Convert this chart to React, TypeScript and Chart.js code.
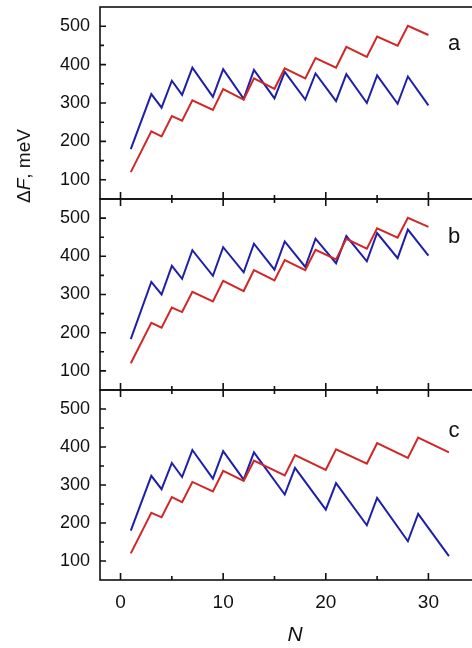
import React, { useEffect, useRef } from "react";
import { Chart, registerables } from "chart.js";

Chart.register(...registerables);

// ---- data ----
const nAB = [1, 3, 4, 5, 6, 7, 9, 10, 12, 13, 15, 16, 18, 19, 21, 22, 24, 25, 27, 28, 30];
const redAB = [120, 226, 213, 266, 254, 307, 282, 336, 309, 364, 337, 390, 364, 417, 392, 446, 420, 473, 449, 501, 477];
const blueA = [180, 323, 288, 358, 321, 392, 316, 388, 311, 386, 312, 381, 309, 377, 305, 375, 300, 372, 298, 369, 294];
const blueB = [183, 333, 300, 375, 341, 416, 349, 424, 358, 433, 365, 439, 372, 446, 382, 453, 387, 461, 395, 470, 402];

const nC = [1, 3, 4, 5, 6, 7, 9, 10, 12, 13, 16, 17, 20, 21, 24, 25, 28, 29, 32];
const redC = [120, 227, 215, 268, 255, 308, 283, 337, 311, 364, 325, 379, 340, 394, 356, 410, 371, 425, 386];
const blueC = [180, 324, 289, 358, 321, 392, 317, 389, 314, 386, 275, 345, 235, 305, 194, 266, 152, 224, 113];

const xMajor = [0, 10, 20, 30];
const xMinor = [5, 15, 25];
const yMajor = [100, 200, 300, 400, 500];
const yMinor = [150, 250, 350, 450];
const panelLabels = ["a", "b", "c"];

const FONT = '"Liberation Sans", Arial, sans-serif';
const BLUE = "#1f1fa8";
const RED = "#d02828";
const INK = "#111";

const framePlugin = {
  id: "frame",
  afterDatasetsDraw(chart: any, _args: any, opts: any) {
    const { ctx, chartArea, scales } = chart;
    const { left, right, top, bottom } = chartArea;
    const x = scales.x;
    const y = scales.y;
    ctx.save();
    ctx.strokeStyle = INK;
    ctx.lineWidth = 1.6;
    ctx.strokeRect(left, top, right - left, bottom - top);
    ctx.beginPath();
    yMajor.forEach((v) => {
      const p = y.getPixelForValue(v);
      ctx.moveTo(left, p);
      ctx.lineTo(left + 6, p);
    });
    yMinor.forEach((v) => {
      const p = y.getPixelForValue(v);
      ctx.moveTo(left, p);
      ctx.lineTo(left + 4, p);
    });
    xMajor.forEach((v) => {
      const p = x.getPixelForValue(v);
      ctx.moveTo(p, bottom);
      ctx.lineTo(p, bottom - 7);
      if (opts.topTicks) {
        ctx.moveTo(p, top);
        ctx.lineTo(p, top + 7);
      }
    });
    xMinor.forEach((v) => {
      const p = x.getPixelForValue(v);
      ctx.moveTo(p, bottom);
      ctx.lineTo(p, bottom - 4);
      if (opts.topTicks) {
        ctx.moveTo(p, top);
        ctx.lineTo(p, top + 4);
      }
    });
    ctx.stroke();
    ctx.fillStyle = INK;
    ctx.font = `22px ${FONT}`;
    ctx.textAlign = "center";
    ctx.textBaseline = "alphabetic";
    ctx.fillText(opts.label, 454, opts.labelY);
    ctx.restore();
  },
};

const panels = [
  { n: nAB, red: redAB, blue: blueA, top: 7, bottom: 199, label: panelLabels[0], labelY: 50, topTicks: false, showX: false },
  { n: nAB, red: redAB, blue: blueB, top: 199, bottom: 390, label: panelLabels[1], labelY: 243, topTicks: true, showX: false },
  { n: nC, red: redC, blue: blueC, top: 390, bottom: 580, label: panelLabels[2], labelY: 437, topTicks: true, showX: true },
];

const W = 490;
const H = 648;

function Panel({ idx }: { idx: number }) {
  const ref = useRef<HTMLCanvasElement | null>(null);
  useEffect(() => {
    const p = panels[idx];
    const canvas = ref.current!;
    const chart = new Chart(canvas, {
      type: "line",
      data: {
        datasets: [
          {
            data: p.n.map((v, i) => ({ x: v, y: p.red[i] })),
            borderColor: RED,
            borderWidth: 2,
            pointRadius: 0,
            tension: 0,
          },
          {
            data: p.n.map((v, i) => ({ x: v, y: p.blue[i] })),
            borderColor: BLUE,
            borderWidth: 2,
            pointRadius: 0,
            tension: 0,
          },
        ],
      },
      options: {
        animation: false,
        responsive: false,
        devicePixelRatio: 1,
        layout: {
          padding: { left: 0, right: 0, top: p.top, bottom: p.showX ? 0 : H - p.bottom },
        },
        plugins: {
          legend: { display: false },
          tooltip: { enabled: false },
          frame: { label: p.label, labelY: p.labelY, topTicks: p.topTicks },
        } as any,
        scales: {
          x: {
            type: "linear",
            min: -2,
            max: 36,
            display: p.showX,
            grid: { display: false, drawTicks: false },
            border: { display: false },
            ticks: {
              font: { family: FONT, size: 19 },
              color: INK,
              padding: 11,
              maxRotation: 0,
              autoSkip: false,
            },
            title: {
              display: true,
              text: "N",
              color: INK,
              font: { family: FONT, size: 21, style: "italic" },
              padding: { top: 6, bottom: 0 },
            },
            afterBuildTicks: (s: any) => {
              s.ticks = xMajor.map((v) => ({ value: v }));
            },
            afterFit: (s: any) => {
              s.height = p.showX ? H - p.bottom : 0;
              s.paddingLeft = 0;
              s.paddingRight = 0;
            },
          },
          y: {
            type: "linear",
            min: 50,
            max: 550,
            grid: { display: false, drawTicks: false },
            border: { display: false },
            ticks: {
              font: { family: FONT, size: 18 },
              color: INK,
              padding: 10,
              autoSkip: false,
            },
            afterBuildTicks: (s: any) => {
              s.ticks = yMajor.map((v) => ({ value: v }));
            },
            afterFit: (s: any) => {
              s.width = 100;
              s.paddingTop = 0;
              s.paddingBottom = 0;
            },
          },
        },
      },
      plugins: [framePlugin],
    });
    return () => chart.destroy();
  }, [idx]);
  return (
    <canvas
      ref={ref}
      width={W}
      height={H}
      style={{ position: "absolute", left: 0, top: 0, width: W, height: H }}
    />
  );
}

export default function App() {
  return (
    <div
      style={{
        position: "absolute",
        left: 0,
        top: 0,
        width: 472,
        height: 648,
        overflow: "hidden",
        background: "#fff",
      }}
    >
      {panels.map((_, i) => (
        <Panel key={i} idx={i} />
      ))}
      <div
        style={{
          position: "absolute",
          left: 24,
          top: 166,
          transform: "translate(-50%, -50%) rotate(-90deg)",
          whiteSpace: "nowrap",
          fontFamily: FONT,
          fontSize: 19,
          color: INK,
        }}
      >
        Δ<i>F</i>, meV
      </div>
    </div>
  );
}
